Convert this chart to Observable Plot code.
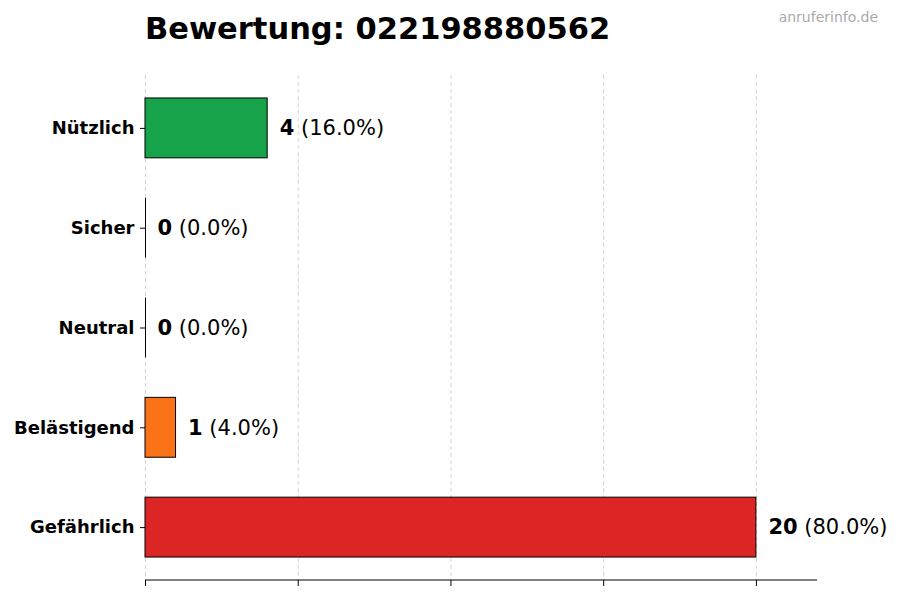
<!DOCTYPE html>
<html>
<head>
<meta charset="utf-8">
<script src="https://cdn.jsdelivr.net/npm/d3@7"></script>
<script src="https://cdn.jsdelivr.net/npm/@observablehq/plot@0.6"></script>
<style>
  body { margin: 0; background: #fff; font-family: "DejaVu Sans", sans-serif; }
  #wrap { position: relative; width: 900px; height: 600px; }
  #title { position: absolute; left: 145px; top: 14px; font-size: 30.5px; line-height: 30px; font-weight: bold; color: #000; white-space: nowrap; }
  #wm { position: absolute; right: 22px; top: 10px; font-size: 14px; line-height: 14px; color: #aaa; white-space: nowrap; }
</style>
</head>
<body>
<div id="wrap">
  <div id="chart"></div>
  <div id="title">Bewertung: 022198880562</div>
  <div id="wm">anruferinfo.de</div>
</div>
<script>
const categories = ["Nützlich", "Sicher", "Neutral", "Belästigend", "Gefährlich"];
const values = [4, 0, 0, 1, 20];
const colors = ["#16a34a", "#9ca3af", "#6b7280", "#f97316", "#dc2626"];
const xTicks = [0, 5, 10, 15, 20];

const total = d3.sum(values);
const data = categories.map((c, i) => ({
  cat: c,
  value: values[i],
  label: `${values[i]} (${(values[i] / total * 100).toFixed(1)}%)`
}));

const chart = Plot.plot({
  width: 900,
  height: 600,
  marginTop: 75,
  marginBottom: 20,
  marginLeft: 145,
  marginRight: 83,
  style: { fontFamily: "DejaVu Sans, sans-serif", background: "transparent" },
  x: { domain: [0, 22] },
  y: { domain: categories, paddingInner: 0.4, paddingOuter: 0.23, round: false },
  color: { domain: categories, range: colors },
  marks: [
    Plot.gridX(xTicks, { stroke: "#cccccc", strokeOpacity: 1, strokeDasharray: "4,3", strokeWidth: 0.8 }),
    Plot.barX(data, { x: "value", y: "cat", fill: "cat", stroke: "black", strokeWidth: 1 }),
    Plot.tickX(data.filter(d => d.value === 0), { x: "value", y: "cat", stroke: "black", strokeWidth: 1 }),
    Plot.text(data, { x: "value", y: "cat", text: "label", dx: 12, textAnchor: "start", fontSize: 21, fill: "black" }),
    Plot.axisX({ ticks: xTicks, tickFormat: () => "", tickSize: 6, stroke: "black", label: null }),
    Plot.axisY({ tickSize: 5, tickPadding: 6, fontSize: 18, fontWeight: "bold", fill: "black", stroke: "black", label: null })
  ]
});

document.getElementById("chart").appendChild(chart);

// bottom spine
const xs = chart.scale("x");
const svg = d3.select(chart);
svg.append("line")
  .attr("x1", xs.apply(0)).attr("x2", xs.apply(22))
  .attr("y1", 600 - 20).attr("y2", 600 - 20)
  .attr("stroke", "black").attr("stroke-width", 1);

// bold value, normal percentage
const labelSet = new Set(data.map(d => d.label));
svg.selectAll("text").each(function () {
  const t = this.textContent;
  if (!labelSet.has(t)) return;
  const k = t.indexOf(" ");
  const sel = d3.select(this);
  sel.text(null);
  sel.append("tspan").attr("font-weight", "bold").text(t.slice(0, k));
  sel.append("tspan").text(t.slice(k));
});
</script>
</body>
</html>
